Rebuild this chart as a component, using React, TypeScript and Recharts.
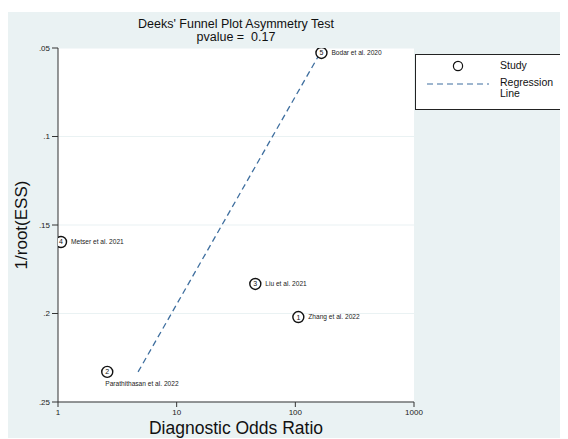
import React from 'react';
import { ScatterChart, Scatter, XAxis, YAxis, CartesianGrid, ReferenceLine, Label } from 'recharts';

const studyIds = [1, 2, 3, 4, 5];
const studyNames = [
  'Zhang et al. 2022',
  'Parathithasan et al. 2022',
  'Liu et al. 2021',
  'Metser et al. 2021',
  'Bodar et al. 2020',
];
const diagnosticOddsRatio = [106, 2.6, 46, 1.06, 166];
const invRootEss = [0.202, 0.233, 0.1833, 0.1596, 0.0528];
const labelBelow = [false, true, false, false, false];
const regressionX = [4.73, 162];
const regressionY = [0.233, 0.0528];
const xTicks = [1, 10, 100, 1000];
const yTicks = [0.05, 0.1, 0.15, 0.2, 0.25];

const BG = '#EAF2F3';
const FONT = '"Liberation Sans", Arial, sans-serif';
const LINE_COLOR = '#3F6F9F';

const studies = studyIds.map((id, i) => ({
  id,
  name: studyNames[i],
  dor: diagnosticOddsRatio[i],
  se: invRootEss[i],
  below: labelBelow[i],
}));

const StudyShape = (props: any) => {
  const { cx, cy, payload } = props;
  if (cx == null || cy == null) return null;
  return (
    <g>
      <circle cx={cx} cy={cy} r={5.5} fill="#fff" stroke="#111" strokeWidth={1.4} />
      <text x={cx} y={cy + 2.5} textAnchor="middle" fontSize={7} fontFamily={FONT} fill="#111">
        {payload.id}
      </text>
      {payload.below ? (
        <text x={cx - 2} y={cy + 14} fontSize={6.6} fontFamily={FONT} fill="#222">
          {payload.name}
        </text>
      ) : (
        <text x={cx + 10} y={cy + 2.3} fontSize={6.6} fontFamily={FONT} fill="#222">
          {payload.name}
        </text>
      )}
    </g>
  );
};

const fmtY = (v: number) => String(v).replace(/^0/, '');

export default function App() {
  return (
    <div style={{ paddingTop: 4, width: 560 }}>
      <div style={{ position: 'relative', width: 560, height: 426, background: BG, overflow: 'hidden' }}>
        <div
          style={{
            position: 'absolute',
            left: 50,
            width: 356,
            top: 6,
            textAlign: 'center',
            fontFamily: FONT,
            fontSize: 12.5,
            lineHeight: '12.5px',
            color: '#111',
          }}
        >
          <div>Deeks' Funnel Plot Asymmetry Test</div>
          <div style={{ whiteSpace: 'pre' }}>pvalue =  0.17</div>
        </div>
        <ScatterChart width={560} height={426} margin={{ top: 36, right: 154, bottom: 0, left: 0 }}>
          <CartesianGrid vertical={false} stroke={BG} fill="#fff" strokeWidth={1.2} />
          <XAxis
            type="number"
            dataKey="dor"
            scale="log"
            domain={[1, 1000]}
            ticks={xTicks}
            allowDataOverflow
            height={36}
            tickSize={5}
            tick={{ fontSize: 8, fill: '#222', fontFamily: FONT }}
            stroke="#333"
            tickFormatter={(v: number) => String(v)}
          >
            <Label
              content={(p: any) => {
                const vb = p.viewBox || {};
                return (
                  <text
                    x={vb.x + vb.width / 2}
                    y={vb.y + 32}
                    textAnchor="middle"
                    fontSize={17.5}
                    fontFamily={FONT}
                    fill="#111"
                  >
                    Diagnostic Odds Ratio
                  </text>
                );
              }}
            />
          </XAxis>
          <YAxis
            type="number"
            dataKey="se"
            reversed
            domain={[0.05, 0.25]}
            ticks={yTicks}
            allowDataOverflow
            width={50}
            tickSize={6}
            tick={{ fontSize: 8, fill: '#222', fontFamily: FONT }}
            stroke="#333"
            tickFormatter={fmtY}
          >
            <Label
              content={(p: any) => {
                const vb = p.viewBox || {};
                const cx = vb.x + 13;
                const cy = vb.y + vb.height / 2;
                return (
                  <text
                    x={cx}
                    y={cy}
                    transform={`rotate(-90 ${cx} ${cy})`}
                    textAnchor="middle"
                    dominantBaseline="central"
                    fontSize={17}
                    fontFamily={FONT}
                    fill="#111"
                  >
                    1/root(ESS)
                  </text>
                );
              }}
            />
          </YAxis>
          <ReferenceLine
            segment={[
              { x: regressionX[0], y: regressionY[0] },
              { x: regressionX[1], y: regressionY[1] },
            ]}
            stroke={LINE_COLOR}
            strokeWidth={1.3}
            strokeDasharray="6 4"
            ifOverflow="visible"
          />
          <Scatter data={studies} shape={StudyShape} isAnimationActive={false} />
        </ScatterChart>
        <div
          style={{
            position: 'absolute',
            left: 407,
            top: 42,
            width: 160,
            height: 56,
            background: '#fff',
            border: '1px solid #222',
            borderRight: 'none',
            boxSizing: 'border-box',
            fontFamily: FONT,
            fontSize: 10.5,
            color: '#111',
          }}
        >
          <svg width={80} height={56} style={{ position: 'absolute', left: 0, top: 0 }}>
            <circle cx={42} cy={11} r={4.6} fill="#fff" stroke="#111" strokeWidth={1.2} />
            <line x1={11} y1={29} x2={73} y2={29} stroke={LINE_COLOR} strokeWidth={1.2} strokeDasharray="6 4" />
          </svg>
          <div style={{ position: 'absolute', left: 84, top: 4, lineHeight: '12px' }}>Study</div>
          <div style={{ position: 'absolute', left: 84, top: 22, lineHeight: '11px' }}>
            Regression
            <br />
            Line
          </div>
        </div>
      </div>
    </div>
  );
}
